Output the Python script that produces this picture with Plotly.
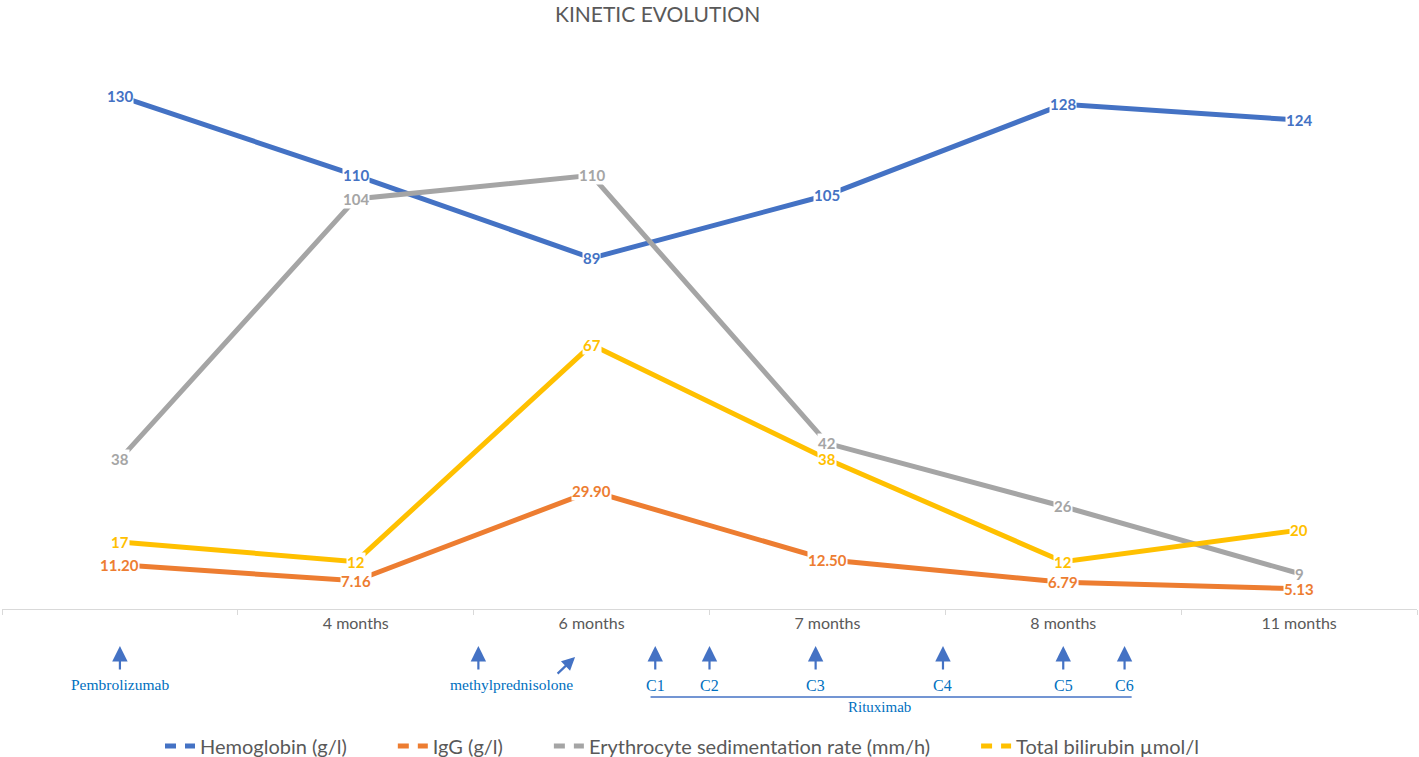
import plotly.graph_objects as go

# ---- data ----
x_pos = [0, 1, 2, 3, 4, 5]
tick_labels = ["", "4 months", "6 months", "7 months", "8 months", "11 months"]
hemoglobin = [130, 110, 89, 105, 128, 124]
igg = [11.20, 7.16, 29.90, 12.50, 6.79, 5.13]
esr = [38, 104, 110, 42, 26, 9]
bilirubin = [17, 12, 67, 38, 12, 20]

series = [
    ("Hemoglobin (g/l)", hemoglobin, "#4472C4", "{:.0f}"),
    ("IgG (g/l)", igg, "#ED7D31", "{:.2f}"),
    ("Erythrocyte sedimentation rate (mm/h)", esr, "#A5A5A5", "{:.0f}"),
    ("Total bilirubin µmol/l", bilirubin, "#FFC000", "{:.0f}"),
]

# treatment markers (arrow position along the x axis, label, label position)
single_arrows = [(0.0, "Pembrolizumab", 0.0), (1.52, "methylprednisolone", 1.66)]
cycles_x = [2.27, 2.50, 2.95, 3.49, 4.00, 4.26]
cycles_lbl = ["C1", "C2", "C3", "C4", "C5", "C6"]

PAD = "\u00a0" * 8

fig = go.Figure()
annotations = []
for name, vals, color, fmt in series:
    fig.add_trace(go.Scatter(x=x_pos, y=vals, mode="lines", name=name,
                             line=dict(color=color, width=5), showlegend=False,
                             hoverinfo="skip"))
    # legend proxy with dashed symbol
    fig.add_trace(go.Scatter(x=[None], y=[None], mode="lines", name=name + PAD,
                             line=dict(color=color, width=5, dash="11px,9px")))
for name, vals, color, fmt in series:
    for xv, yv in zip(x_pos, vals):
        annotations.append(dict(x=xv, y=yv, xref="x", yref="y", text=fmt.format(yv),
                                showarrow=False, bgcolor="white", borderpad=0,
                                yanchor="middle", xanchor="center",
                                font=dict(family="Lato", size=15, color=color,
                                          weight="bold")))

T, B = 57, 609          # plot area top / bottom in pixels
H = B - T


def ypx(p):
    # convert pixel row (from top of figure) to paper coordinate
    return (B - p) / H


blue = "#4472C4"
txt_blue = "#0070C0"
serif = "Liberation Serif"

# vertical arrows
arrow_x = [single_arrows[0][0], single_arrows[1][0]] + cycles_x
for ax_ in arrow_x:
    annotations.append(dict(x=ax_, y=ypx(646), xref="x", yref="paper", text="",
                            showarrow=True, ax=0, ay=25, arrowhead=2, arrowsize=1.4,
                            arrowwidth=2.2, arrowcolor=blue))
# diagonal arrow for methylprednisolone
annotations.append(dict(x=1.93, y=ypx(657), xref="x", yref="paper", text="",
                        showarrow=True, ax=-19, ay=18, arrowhead=2, arrowsize=1.2,
                        arrowwidth=2.2, arrowcolor=blue))
for _, lbl, lx in single_arrows:
    annotations.append(dict(x=lx, y=ypx(684), xref="x", yref="paper", text=lbl,
                            showarrow=False, yanchor="middle", xanchor="center",
                            font=dict(family=serif, size=15.5, color=txt_blue)))
for cx, cl in zip(cycles_x, cycles_lbl):
    annotations.append(dict(x=cx, y=ypx(685), xref="x", yref="paper", text=cl,
                            showarrow=False, yanchor="middle", xanchor="center",
                            font=dict(family=serif, size=16, color=txt_blue)))
annotations.append(dict(x=3.22, y=ypx(707), xref="x", yref="paper", text="Rituximab",
                        showarrow=False, yanchor="middle", xanchor="center",
                        font=dict(family=serif, size=15, color=txt_blue)))
# title
annotations.append(dict(x=(657 - 2) / 1415, y=ypx(13), xref="paper", yref="paper",
                        text="KINETIC EVOLUTION", showarrow=False,
                        yanchor="middle", xanchor="center",
                        font=dict(family="Lato", size=21, color="#595959")))

shapes = [dict(type="line", xref="x", yref="paper", x0=2.25, x1=4.29,
               y0=ypx(697), y1=ypx(697), line=dict(color=blue, width=1.5))]

fig.update_layout(
    width=1419, height=757,
    margin=dict(l=2, r=2, t=T, b=757 - B, autoexpand=False),
    plot_bgcolor="white", paper_bgcolor="white",
    annotations=annotations, shapes=shapes,
    legend=dict(orientation="h", x=(160 - 2) / 1415, y=ypx(746), xanchor="left",
                yanchor="middle",
                font=dict(family="Lato", size=20, color="#595959"),
                itemwidth=30, tracegroupgap=0),
    xaxis=dict(range=[-0.5, 5.5], tickmode="array", tickvals=x_pos, ticktext=tick_labels,
               showline=True, linecolor="#D9D9D9", linewidth=1, showgrid=False,
               zeroline=False, ticks="", tickfont=dict(family="Lato", size=16, color="#595959"),
               minor=dict(tickvals=[-0.5, 0.5, 1.5, 2.5, 3.5, 4.5, 5.5], ticks="outside",
                          ticklen=5, tickcolor="#D9D9D9", showgrid=False)),
    yaxis=dict(range=[0, 140], visible=False, showgrid=False, zeroline=False),
)

fig.write_html("out.html", config={"displayModeBar": False},
               post_script="document.body.style.margin='0';document.body.style.overflow='hidden';")
